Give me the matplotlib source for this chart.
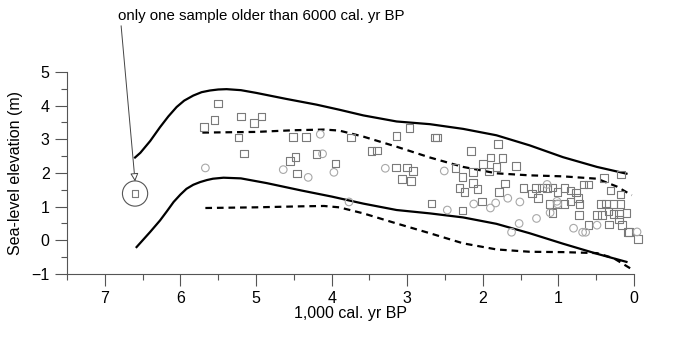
import matplotlib.pyplot as plt
from matplotlib.ticker import MultipleLocator

plt.rcParams['font.family'] = ['Liberation Sans', 'DejaVu Sans']

# sample ages (1,000 cal. yr BP) and elevations (m)
sq_age = [5.50, 5.55, 5.20, 4.93, 5.03, 5.69, 5.23, 5.16, 4.51, 4.34, 3.74, 3.14,
          4.20, 4.48, 4.55, 3.95, 3.47, 3.40, 4.46, 3.15, 3.00, 2.92, 3.07, 2.95,
          2.97, 2.63, 2.61, 2.68, 2.27, 2.36, 2.27, 2.31, 2.24, 2.16, 2.13, 2.13,
          2.07, 2.01, 2.00, 1.90, 1.92, 1.82, 1.74, 1.80, 1.79, 1.71, 1.56, 1.46,
          1.35, 1.27, 1.30, 1.22, 1.15, 1.08, 1.01, 0.92, 0.84, 0.77, 0.74, 0.67,
          0.60, 1.12, 1.02, 0.92, 0.84, 0.72, 1.08, 0.73, 0.60, 0.40, 0.31, 0.18,
          0.17, 0.44, 0.37, 0.27, 0.18, 0.49, 0.42, 0.34, 0.27, 0.20, 0.10, 0.20,
          0.33, 0.16, 0.08, 0.07, -0.05]
sq_elev = [4.06, 3.58, 3.68, 3.68, 3.48, 3.36, 3.05, 2.58, 3.07, 3.07, 3.05, 3.09,
           2.56, 2.47, 2.35, 2.28, 2.65, 2.67, 1.98, 2.16, 2.16, 2.06, 1.82, 1.76,
           3.34, 3.05, 3.05, 1.09, 0.89, 2.15, 1.88, 1.56, 1.43, 2.66, 2.03, 1.70,
           1.53, 1.15, 2.26, 2.46, 2.05, 2.18, 2.45, 2.87, 1.43, 1.69, 2.20, 1.55,
           1.39, 1.25, 1.55, 1.57, 1.56, 1.57, 1.43, 1.56, 1.48, 1.42, 1.25, 1.66,
           1.66, 1.07, 1.07, 1.07, 1.15, 1.07, 0.82, 0.75, 0.45, 1.85, 1.48, 1.36,
           1.96, 1.07, 1.09, 1.07, 1.07, 0.76, 0.76, 0.86, 0.78, 0.78, 0.82, 0.62,
           0.47, 0.45, 0.25, 0.25, 0.04]

ci_age = [5.67, 4.64, 4.15, 4.12, 4.31, 3.97, 3.29, 3.77, 2.51, 2.47, 2.12, 1.90,
          1.83, 1.67, 1.51, 1.52, 1.62, 1.15, 1.02, 1.01, 1.11, 1.29, 0.80, 0.68,
          0.64, 0.49, -0.04]
ci_elev = [2.15, 2.10, 3.15, 2.57, 1.87, 2.02, 2.14, 1.14, 2.06, 0.90, 1.08, 0.96,
           1.11, 1.25, 1.14, 0.50, 0.24, 1.66, 1.16, 1.08, 0.82, 0.65, 0.36, 0.24,
           0.24, 0.45, 0.25]

old_age, old_elev = 6.60, 1.39

# envelope curves
up_age = [6.60, 6.53, 6.40, 6.27, 6.16, 6.05, 5.95, 5.83, 5.72, 5.61, 5.50, 5.39,
          5.20, 5.00, 4.60, 4.20, 3.90, 3.58, 3.14, 2.70, 2.26, 1.82, 1.38, 0.94,
          0.49, 0.10]
up_elev = [2.46, 2.60, 2.95, 3.36, 3.68, 3.96, 4.15, 4.30, 4.40, 4.45, 4.48, 4.49,
           4.46, 4.38, 4.20, 4.03, 3.88, 3.71, 3.53, 3.45, 3.31, 3.12, 2.82, 2.47,
           2.18, 1.98]

lo_age = [6.58, 6.40, 6.27, 6.18, 6.09, 6.00, 5.92, 5.83, 5.74, 5.65, 5.57, 5.43,
          5.20, 4.86, 4.40, 4.00, 3.58, 3.14, 2.70, 2.26, 1.82, 1.38, 0.94, 0.49,
          0.10]
lo_elev = [-0.20, 0.25, 0.59, 0.86, 1.14, 1.36, 1.53, 1.65, 1.73, 1.79, 1.83, 1.86,
           1.84, 1.70, 1.48, 1.30, 1.09, 0.90, 0.80, 0.68, 0.49, 0.21, -0.10, -0.40,
           -0.64]

upd_age = [5.71, 5.00, 4.50, 4.10, 3.90, 3.58, 3.14, 2.70, 2.26, 1.82, 1.38, 0.94,
           0.49, 0.23, 0.03]
upd_elev = [3.20, 3.22, 3.27, 3.29, 3.26, 3.08, 2.78, 2.46, 2.18, 1.99, 1.93, 1.90,
            1.83, 1.60, 1.34]

lod_age = [5.67, 5.00, 4.40, 4.10, 3.90, 3.58, 3.14, 2.70, 2.26, 1.82, 1.38, 0.94,
           0.49, 0.27, 0.00]
lod_elev = [0.96, 0.98, 1.01, 1.02, 0.98, 0.80, 0.50, 0.21, -0.09, -0.27, -0.34, -0.35,
            -0.38, -0.53, -0.90]

fig = plt.figure(figsize=(6.75, 3.41), dpi=100)
ax = fig.add_axes([0.0993, 0.1965, 0.840, 0.5924])

ax.plot(up_age, up_elev, color='black', lw=1.6)
ax.plot(lo_age, lo_elev, color='black', lw=1.6)
ax.plot(upd_age, upd_elev, color='black', lw=1.6, ls=(0, (3, 2.2)))
ax.plot(lod_age, lod_elev, color='black', lw=1.6, ls=(0, (3, 2.2)))

ax.scatter(sq_age, sq_elev, marker='s', s=30, facecolors='none',
           edgecolors='#7a7a7a', linewidths=0.8, clip_on=False, zorder=3)
ax.scatter(ci_age, ci_elev, marker='o', s=30, facecolors='none',
           edgecolors='#a8a8a8', linewidths=0.8, clip_on=False, zorder=3)
ax.scatter([old_age], [old_elev], marker='s', s=22, facecolors='none',
           edgecolors='#7a7a7a', linewidths=0.8, zorder=3)
ax.scatter([old_age], [old_elev], marker='o', s=330, facecolors='none',
           edgecolors='#555555', linewidths=0.8, zorder=3)

ax.annotate('only one sample older than 6000 cal. yr BP',
            xy=(old_age, old_elev + 0.36), xycoords='data',
            xytext=(118, 318), textcoords='figure pixels',
            fontsize=10.8, va='bottom', ha='left',
            arrowprops=dict(arrowstyle='-|>', color='#444444', lw=0.7,
                            fc='white', mutation_scale=12,
                            shrinkA=0, shrinkB=0, relpos=(0.01, 0.0)),
            annotation_clip=False)

ax.set_xlim(7.5, 0)
ax.set_ylim(-1, 5)
ax.xaxis.set_major_locator(MultipleLocator(1))
ax.xaxis.set_minor_locator(MultipleLocator(0.5))
ax.yaxis.set_major_locator(MultipleLocator(1))
ax.yaxis.set_minor_locator(MultipleLocator(0.5))
ax.tick_params(which='major', length=8.5, width=0.8, color='#555555',
               labelsize=11.5, pad=4)
ax.tick_params(which='minor', length=4.3, width=0.8, color='#555555')
for s in ['top', 'right']:
    ax.spines[s].set_visible(False)
for s in ['left', 'bottom']:
    ax.spines[s].set_color('#555555')
    ax.spines[s].set_linewidth(0.8)

ax.set_xlabel('1,000 cal. yr BP', fontsize=11.5, labelpad=0)
ax.set_ylabel('Sea-level elevation (m)', fontsize=11.5, labelpad=6)

fig.savefig('out.png', dpi=100)
